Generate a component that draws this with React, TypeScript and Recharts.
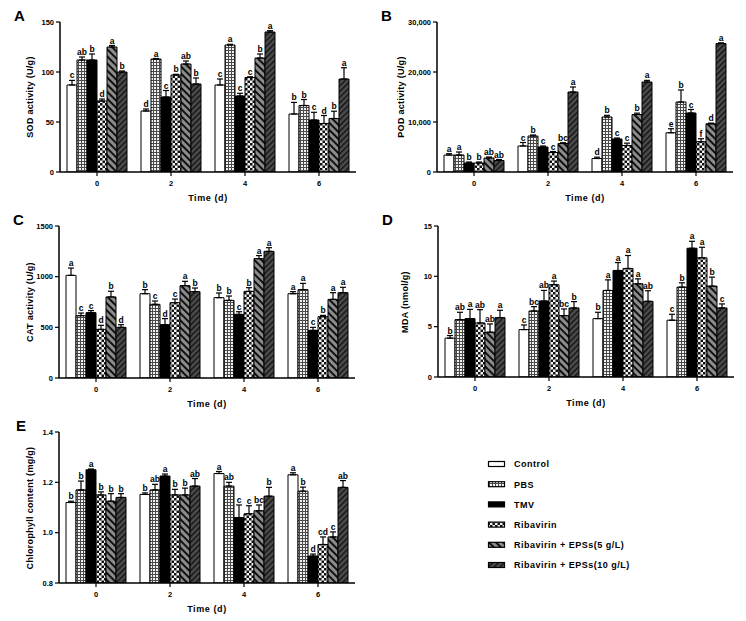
import { Bar, BarChart, ErrorBar, XAxis, YAxis } from 'recharts';

const days = ['0', '2', '4', '6'];
const groups = ['Control', 'PBS', 'TMV', 'Ribavirin', 'Ribavirin + EPSs(5 g/L)', 'Ribavirin + EPSs(10 g/L)'];
const fills = ['#ffffff', 'url(#pbs)', '#000000', 'url(#riba)', 'url(#eps5)', 'url(#eps10)'];

// every table: one row per treatment, columns are day 0, 2, 4, 6
const sodMean = [
    [87, 61, 87, 58],
    [112, 113, 127, 66.5],
    [112, 75, 76, 52],
    [71, 97, 94.5, 48.5],
    [125, 108, 114, 53.5],
    [100, 88, 140, 93],
];
const sodErr = [
    [4.6, 2, 6, 11.6],
    [3, 0.5, 0.7, 6],
    [6, 6.5, 2.7, 7.7],
    [2, 0.7, 0.7, 8],
    [1.5, 3, 4, 7.3],
    [1, 6, 1.3, 11.3],
];
const sodSig = [
    ['c', 'd', 'c', 'b'],
    ['ab', 'a', 'a', 'b'],
    ['b', 'c', 'c', 'c'],
    ['d', 'b', 'c', 'd'],
    ['a', 'ab', 'b', 'b'],
    ['b', 'b', 'a', 'a'],
];

const podMean = [
    [3390, 5200, 2700, 7850],
    [3400, 7200, 11000, 14000],
    [1800, 5000, 6600, 11800],
    [1800, 3900, 5300, 6050],
    [2800, 5700, 11500, 9650],
    [2300, 16000, 18000, 25700],
];
const podErr = [
    [270, 700, 270, 800],
    [600, 200, 330, 2400],
    [200, 200, 200, 700],
    [200, 200, 470, 600],
    [200, 150, 270, 130],
    [200, 1000, 330, 130],
];
const podSig = [
    ['a', 'c', 'd', 'e'],
    ['a', 'b', 'b', 'b'],
    ['b', 'c', 'c', 'c'],
    ['b', 'c', 'c', 'f'],
    ['ab', 'bc', 'b', 'd'],
    ['ab', 'a', 'a', 'a'],
];

const catMean = [
    [1013, 832, 793, 832],
    [615, 727, 766, 872],
    [645, 526, 628, 470],
    [480, 743, 855, 605],
    [800, 911, 1178, 776],
    [500, 852, 1250, 842],
];
const catErr = [
    [72, 40, 46, 20],
    [26, 33, 43, 62],
    [20, 60, 26, 30],
    [40, 36, 36, 13],
    [56, 43, 30, 66],
    [26, 36, 36, 53],
];
const catSig = [
    ['a', 'b', 'b', 'a'],
    ['c', 'c', 'b', 'a'],
    ['c', 'd', 'c', 'c'],
    ['d', 'c', 'b', 'b'],
    ['b', 'a', 'a', 'a'],
    ['d', 'b', 'a', 'a'],
];

const mdaMean = [
    [3.86, 4.71, 5.8, 5.64],
    [5.7, 6.56, 8.6, 8.93],
    [5.8, 7.55, 10.58, 12.79],
    [5.37, 9.17, 10.78, 11.84],
    [4.45, 6.1, 9.26, 9.03],
    [5.9, 6.86, 7.52, 6.86],
];
const mdaErr = [
    [0.26, 0.46, 0.63, 0.59],
    [0.73, 0.43, 1.05, 0.43],
    [0.92, 1.05, 0.79, 0.69],
    [1.32, 0.36, 1.29, 1.05],
    [0.82, 0.66, 0.49, 0.89],
    [0.73, 0.63, 1.05, 0.4],
];
const mdaSig = [
    ['b', 'c', 'b', 'c'],
    ['ab', 'bc', 'a', 'b'],
    ['a', 'ab', 'a', 'a'],
    ['ab', 'a', 'a', 'a'],
    ['ab', 'bc', 'a', 'b'],
    ['a', 'b', 'ab', 'c'],
];

const chlMean = [
    [1.12, 1.152, 1.235, 1.23],
    [1.17, 1.17, 1.185, 1.165],
    [1.25, 1.225, 1.06, 0.907],
    [1.15, 1.15, 1.075, 0.953],
    [1.125, 1.15, 1.087, 0.983],
    [1.14, 1.185, 1.145, 1.18],
];
const chlErr = [
    [0.005, 0.006, 0.008, 0.008],
    [0.035, 0.022, 0.015, 0.016],
    [0.003, 0.008, 0.05, 0.008],
    [0.012, 0.022, 0.032, 0.03],
    [0.03, 0.027, 0.023, 0.02],
    [0.015, 0.03, 0.035, 0.027],
];
const chlSig = [
    ['b', 'b', 'a', 'a'],
    ['b', 'ab', 'ab', 'b'],
    ['a', 'a', 'c', 'd'],
    ['b', 'b', 'c', 'cd'],
    ['b', 'b', 'bc', 'c'],
    ['b', 'ab', 'b', 'ab'],
];

const FONT = '"Liberation Sans", Arial, Helvetica, sans-serif';
const BAND = 74;
const Y_AXIS_W = 45;

// letter above the error bar cap; px-per-unit comes from the bar's own height
const sigLabel = (letters: string[], errs: number[], base: number) => (p: any) => {
    const vb = p.viewBox ?? {};
    const x = p.x ?? vb.x;
    const y = p.y ?? vb.y;
    const width = p.width ?? vb.width;
    const height = p.height ?? vb.height;
    const idx = p.index;
    const v = Number(p.value);
    const k = v - base > 0 ? height / (v - base) : 0;
    const capY = y - errs[idx] * k;
    return (
        <text
            key={`sig-${idx}`}
            x={x + width / 2}
            y={capY - 2}
            textAnchor="middle"
            fontSize={8.5}
            fontWeight="bold"
            fontFamily={FONT}
            fill="#000"
        >
            {letters[idx]}
        </text>
    );
};

interface PanelProps {
    tag: string;
    tagX: number;
    title: string;
    titleX: number;
    axisX: number;
    plotTop: number;
    plotH: number;
    mean: number[][];
    err: number[][];
    sig: string[][];
    domain: [number, number];
    ticks: number[];
    fmt: (v: number) => string;
}

const Panel = ({ tag, tagX, title, titleX, axisX, plotTop, plotH, mean, err, sig, domain, ticks, fmt }: PanelProps) => {
    const rows = days.map((day, i) => {
        const row: Record<string, unknown> = { day };
        mean.forEach((m, s) => {
            row[`v${s}`] = m[i];
            row[`e${s}`] = [0, err[s][i]];
        });
        return row;
    });
    const plotW = BAND * days.length;
    const topPad = 14;
    const bottomPad = 34;
    const axisY = plotTop + plotH;

    return (
        <>
            <div
                style={{
                    position: 'absolute',
                    left: tagX,
                    top: plotTop - 14,
                    fontSize: 15,
                    lineHeight: '15px',
                    fontWeight: 'bold',
                    fontFamily: FONT,
                }}
            >
                {tag}
            </div>
            <div
                style={{
                    position: 'absolute',
                    left: titleX,
                    top: plotTop + plotH / 2,
                    transform: 'translate(-50%, -50%) rotate(-90deg)',
                    whiteSpace: 'nowrap',
                    fontSize: 9,
                    fontWeight: 'bold',
                    fontFamily: FONT,
                    letterSpacing: 0.3,
                }}
            >
                {title}
            </div>
            <div
                style={{
                    position: 'absolute',
                    left: axisX + plotW / 2,
                    top: axisY + 26,
                    transform: 'translate(-50%, -50%)',
                    whiteSpace: 'nowrap',
                    fontSize: 9,
                    fontWeight: 'bold',
                    fontFamily: FONT,
                    letterSpacing: 0.6,
                }}
            >
                Time (d)
            </div>
            <div style={{ position: 'absolute', left: axisX - Y_AXIS_W, top: plotTop - topPad }}>
                <BarChart
                    width={Y_AXIS_W + plotW + 4}
                    height={topPad + plotH + bottomPad}
                    data={rows}
                    margin={{ top: topPad, right: 4, bottom: 0, left: 0 }}
                    barCategoryGap={7}
                    barGap={0}
                >
                    <XAxis
                        dataKey="day"
                        height={bottomPad}
                        axisLine={{ stroke: '#000', strokeWidth: 1.5 }}
                        tickLine={{ stroke: '#000', strokeWidth: 1.2 }}
                        tickSize={4}
                        tickMargin={5}
                        tick={{ fontSize: 7.5, fontWeight: 'bold', fill: '#000', fontFamily: FONT }}
                    />
                    <YAxis
                        width={Y_AXIS_W}
                        domain={domain}
                        ticks={ticks}
                        allowDataOverflow
                        interval={0}
                        tickFormatter={fmt}
                        axisLine={{ stroke: '#000', strokeWidth: 1.5 }}
                        tickLine={{ stroke: '#000', strokeWidth: 1.2 }}
                        tickSize={4}
                        tickMargin={2}
                        tick={{ fontSize: 7.5, fontWeight: 'bold', fill: '#000', fontFamily: FONT }}
                    />
                    {groups.map((g, s) => (
                        <Bar
                            key={g}
                            dataKey={`v${s}`}
                            name={g}
                            fill={fills[s]}
                            stroke="#000"
                            strokeWidth={1}
                            isAnimationActive={false}
                            label={sigLabel(sig[s], err[s], domain[0])}
                        >
                            <ErrorBar dataKey={`e${s}`} direction="y" width={3} stroke="#000" strokeWidth={1.2} />
                        </Bar>
                    ))}
                </BarChart>
            </div>
        </>
    );
};

const Patterns = () => (
    <svg width={0} height={0} style={{ position: 'absolute' }}>
        <defs>
            <pattern id="pbs" width={3} height={3} patternUnits="userSpaceOnUse">
                <rect width={3} height={3} fill="#f2f2f2" />
                <path d="M0 0.5H3M0.5 0V3" stroke="#4a4a4a" strokeWidth={1} />
            </pattern>
            <pattern id="riba" width={5} height={5} patternUnits="userSpaceOnUse">
                <rect width={5} height={5} fill="#f4f4f4" />
                <rect width={2.5} height={2.5} fill="#111" />
                <rect x={2.5} y={2.5} width={2.5} height={2.5} fill="#111" />
            </pattern>
            <pattern id="eps5" width={5} height={5} patternUnits="userSpaceOnUse" patternTransform="rotate(-45)">
                <rect width={5} height={5} fill="#8c8c8c" />
                <rect width={2} height={5} fill="#111" />
            </pattern>
            <pattern id="eps10" width={4} height={4} patternUnits="userSpaceOnUse" patternTransform="rotate(45)">
                <rect width={4} height={4} fill="#4d4d4d" />
                <rect width={1.4} height={4} fill="#111" />
            </pattern>
        </defs>
    </svg>
);

const Legend = () => (
    <svg width={260} height={130} style={{ position: 'absolute', left: 480, top: 450 }}>
        {groups.map((g, s) => {
            const cy = 14 + s * 20.2;
            return (
                <g key={g}>
                    <rect x={8.5} y={cy - 2.5} width={16} height={5} fill={fills[s]} stroke="#000" strokeWidth={1.2} />
                    <text
                        x={34}
                        y={cy + 3.3}
                        fontSize={9}
                        fontWeight="bold"
                        fontFamily={FONT}
                        letterSpacing={0.5}
                        fill="#000"
                    >
                        {g}
                    </text>
                </g>
            );
        })}
    </svg>
);

const plain = (v: number) => String(v);
const thousands = (v: number) => v.toLocaleString('en-US');
const oneDecimal = (v: number) => v.toFixed(1);

export default function App() {
    return (
        <div
            style={{
                position: 'absolute',
                left: 0,
                top: 0,
                width: 746,
                height: 621,
                background: '#fff',
                fontFamily: FONT,
                overflow: 'hidden',
            }}
        >
            <Patterns />
            <Panel tag="A" tagX={14} title="SOD activity (U/g)" titleX={30} axisX={60} plotTop={22} plotH={150}
                mean={sodMean} err={sodErr} sig={sodSig} domain={[0, 150]} ticks={[0, 50, 100, 150]} fmt={plain} />
            <Panel tag="B" tagX={381} title="POD activity (U/g)" titleX={401} axisX={437} plotTop={22} plotH={150}
                mean={podMean} err={podErr} sig={podSig} domain={[0, 30000]} ticks={[0, 10000, 20000, 30000]} fmt={thousands} />
            <Panel tag="C" tagX={13} title="CAT activity (U/g)" titleX={30} axisX={59} plotTop={226} plotH={152}
                mean={catMean} err={catErr} sig={catSig} domain={[0, 1500]} ticks={[0, 500, 1000, 1500]} fmt={plain} />
            <Panel tag="D" tagX={382} title="MDA (nmol/g)" titleX={405} axisX={438} plotTop={226} plotH={151}
                mean={mdaMean} err={mdaErr} sig={mdaSig} domain={[0, 15]} ticks={[0, 5, 10, 15]} fmt={plain} />
            <Panel tag="E" tagX={16} title="Chlorophyll content (mg/g)" titleX={30} axisX={59} plotTop={432} plotH={151}
                mean={chlMean} err={chlErr} sig={chlSig} domain={[0.8, 1.4]} ticks={[0.8, 1.0, 1.2, 1.4]} fmt={oneDecimal} />
            <Legend />
        </div>
    );
}
